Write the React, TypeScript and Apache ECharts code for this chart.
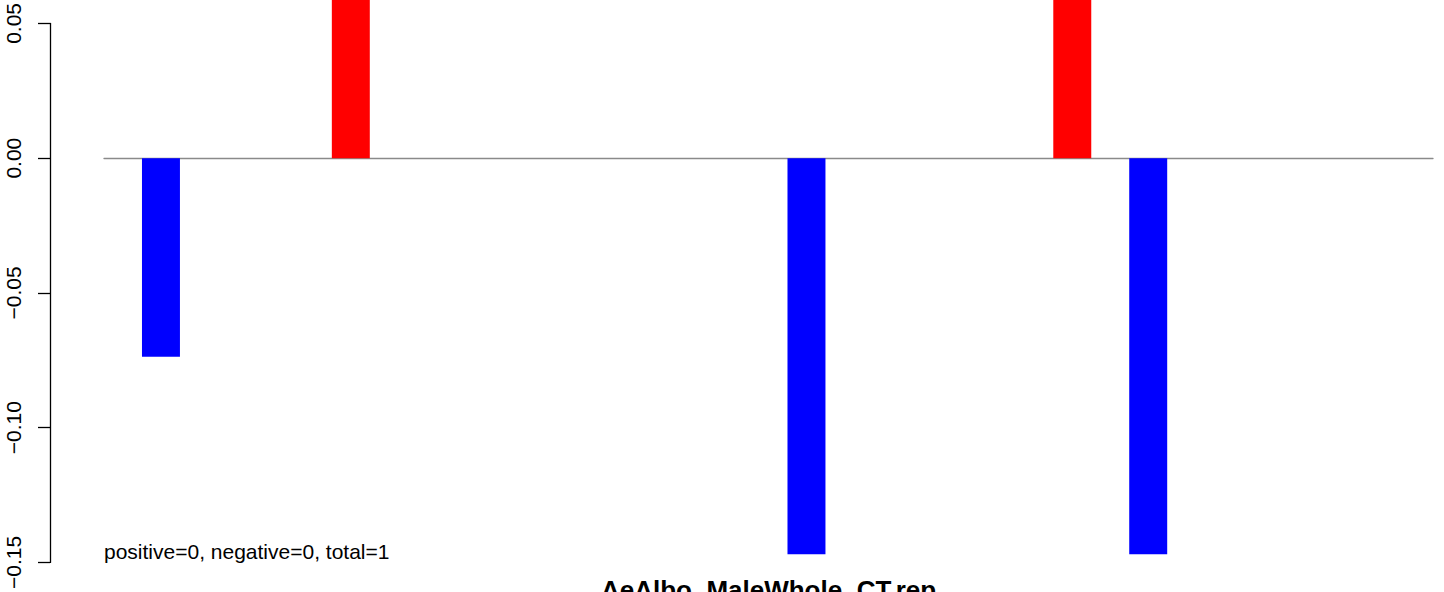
import React, { useEffect, useRef } from "react";
import * as echarts from "echarts";

// 35 category slots (R barplot positions); most are empty
const categories: string[] = Array.from({ length: 35 }, (_, i) => String(i + 1));
const barSlots: number[] = [1, 6, 18, 25, 27];
const barValues: number[] = [-0.0737, 0.09, -0.147, 0.09, -0.147];
const yTicks = { min: -0.15, max: 0.05, interval: 0.05 };
const titleText = "AeAlbo_MaleWhole_CT.rep";
const noteText = "positive=0, negative=0, total=1";

const FONT = "'Liberation Sans', Arial, Helvetica, sans-serif";

export default function App() {
  const ref = useRef<HTMLDivElement>(null);
  useEffect(() => {
    if (!ref.current) return;
    const chart = echarts.init(ref.current, undefined, { renderer: "svg" });
    const values: (number | null)[] = categories.map(() => null);
    barSlots.forEach((s, i) => (values[s] = barValues[i]));
    const data = values.map((v) =>
      v === null
        ? null
        : { value: v, itemStyle: { color: v >= 0 ? "#ff0000" : "#0000ff" } }
    );
    const fmt = (v: number) => {
      const r = Math.round(v * 100) / 100;
      if (Math.abs(r) < 1e-9) return "0.00";
      return (r < 0 ? "\u2212" : "") + Math.abs(r).toFixed(2);
    };
    chart.setOption({
      animation: false,
      backgroundColor: "#ffffff",
      grid: { left: 104, right: 11, top: 21, bottom: 28, containLabel: false },
      xAxis: {
        type: "category",
        data: categories,
        boundaryGap: true,
        axisLine: { show: true, onZero: true, lineStyle: { color: "#8a8a8a", width: 1.3 } },
        axisTick: { show: false },
        axisLabel: { show: false },
        splitLine: { show: false },
      },
      yAxis: {
        type: "value",
        min: yTicks.min,
        max: yTicks.max,
        interval: yTicks.interval,
        offset: 54,
        axisLine: { show: true, lineStyle: { color: "#000000", width: 1.3 } },
        axisTick: { show: true, inside: false, length: 12, lineStyle: { color: "#000000", width: 1.3 } },
        axisLabel: {
          rotate: 90,
          margin: 26,
          color: "#000000",
          fontFamily: FONT,
          fontSize: 21,
          formatter: fmt,
        },
        splitLine: { show: false },
      },
      series: [
        {
          type: "bar",
          data,
          barWidth: "100%",
          barCategoryGap: "0%",
          clip: false,
        },
      ],
      graphic: [
        {
          type: "text",
          left: 104,
          top: 541,
          style: { text: noteText, fontFamily: FONT, fontSize: 21, fill: "#000000" },
        },
        {
          type: "text",
          x: 768.5,
          y: 577,
          style: {
            text: titleText,
            fontFamily: FONT,
            fontSize: 26,
            fontWeight: "bold",
            fill: "#000000",
            align: "center",
            verticalAlign: "top",
          },
        },
      ],
    });
    return () => chart.dispose();
  }, []);
  return (
    <div
      ref={ref}
      style={{ position: "fixed", left: 0, top: 0, width: 1444, height: 592, background: "#fff" }}
    />
  );
}
